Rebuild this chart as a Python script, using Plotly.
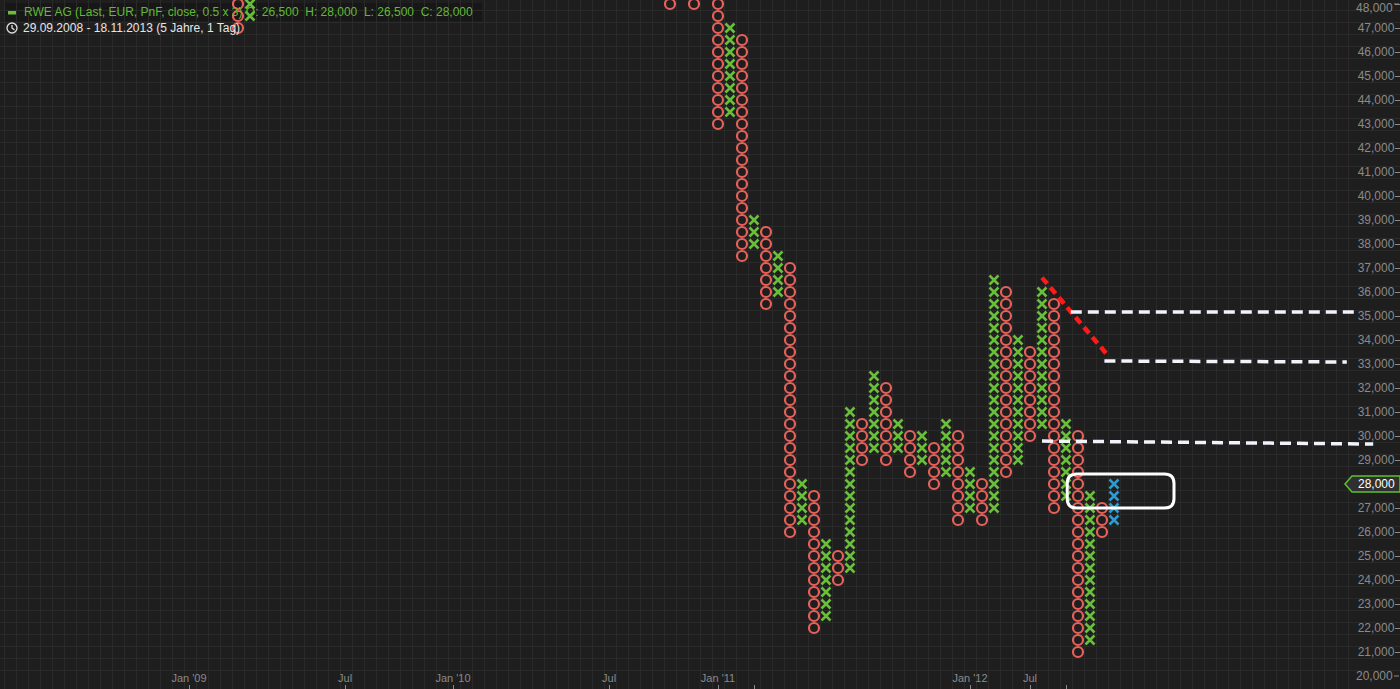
"""Point & figure chart of RWE AG (0.5 x 3), dark terminal style."""
import numpy as np
import plotly.graph_objects as go

# ---- data: one entry per PnF column (index, type, low box, high box) ----
col_idx = [0, 1, 36, 38, 40, 41, 42, 43, 44, 45, 46, 47, 48, 49, 50, 51, 52, 53,
           54, 55, 56, 57, 58, 59, 60, 61, 62, 63, 64, 65, 66, 67, 68, 69, 70,
           71, 72, 73]
col_type = ["O", "X", "O", "O", "O", "X", "O", "X", "O", "X", "O", "X", "O", "X",
            "O", "X", "O", "X", "O", "X", "O", "X", "O", "X", "O", "X", "O", "X",
            "O", "X", "O", "X", "O", "X", "O", "X", "O", "X"]
col_low = [47000, 47500, 48000, 48000, 43000, 43500, 37500, 38000, 35500, 36000,
           26000, 26500, 22000, 22500, 24000, 24500, 29000, 29500, 29000, 29500,
           28500, 29000, 28000, 28500, 26500, 27000, 26500, 27000, 28500, 29000,
           30000, 30500, 27000, 27500, 21000, 21500, 26000, 26500]
col_high = [48000, 48000, 48000, 48000, 48000, 47000, 46500, 39000, 38500, 37500,
            37000, 28000, 27500, 25500, 25000, 31000, 30500, 32500, 32000, 30500,
            30000, 30000, 29500, 30500, 30000, 28500, 28000, 36500, 36000, 34000,
            33500, 36000, 35500, 30500, 30000, 27500, 27000, 28000]
last_col = 73          # current (unfinished) column drawn in blue
box = 500
last_price = 28000

# price scale
price_ticks = list(range(20000, 48001, 1000))

# date ticks on the column axis
date_ticks = [-4.08, 8.92, 17.92, 30.92, 40, 43, 61, 66, 69]
date_labels = ["Jan '09", "Jul", "Jan '10", "Jul", "Jan '11", "", "Jan '12", "Jul", ""]

# hand-drawn trend lines (column, price)
red_line = [(67.0, 36600), (72.5, 33350)]
white_lines = [
    [(69.4, 35170), (93.1, 35170)],
    [(72.2, 33125), (92.4, 33085)],
    [(67.0, 29790), (94.6, 29665)],
]
highlight_box = (69.1, 78.0, 27000, 28420)

BG = "#1e1e1e"
GRID = "#2a2a2a"
RED = "#e8605a"
GREEN = "#69bf3a"
BLUE = "#2c9bd1"
AXIS_TXT = "#8a8a8a"
W, H = 1400, 689


def px(x):
    return x / W


def py(y):
    return 1 - y / H


def main():
    xs_o, ys_o, xs_x, ys_x, xs_b, ys_b = [], [], [], [], [], []
    for c, t, lo, hi in zip(col_idx, col_type, col_low, col_high):
        boxes = np.arange(lo, hi + 1, box)
        if c == last_col:
            xs_b += [c] * len(boxes)
            ys_b += list(boxes)
        elif t == "O":
            xs_o += [c] * len(boxes)
            ys_o += list(boxes)
        else:
            xs_x += [c] * len(boxes)
            ys_x += list(boxes)

    fig = go.Figure()
    fig.add_trace(go.Scatter(
        x=xs_o, y=ys_o, mode="markers",
        marker=dict(symbol="circle-open", size=10, color=RED, line=dict(width=2.2, color=RED)),
        showlegend=False, hoverinfo="y",
    ))
    fig.add_trace(go.Scatter(
        x=xs_x, y=ys_x, mode="markers",
        marker=dict(symbol="x-thin-open", size=9, color=GREEN, line=dict(width=2.6, color=GREEN)),
        showlegend=False, hoverinfo="y",
    ))
    fig.add_trace(go.Scatter(
        x=xs_b, y=ys_b, mode="markers",
        marker=dict(symbol="x-thin-open", size=9, color=BLUE, line=dict(width=2.6, color=BLUE)),
        showlegend=False, hoverinfo="y",
    ))

    # x range so that col 0 sits at 238px, 12px per column
    xmin = -238 / 12
    xmax = xmin + W / 12
    # y range: 20,000 at 676px, 24px per 1,000
    ymin = 20000 - (H - 676) / 0.024
    ymax = 20000 + 676 / 0.024

    shapes = []
    # header band
    shapes.append(dict(type="rect", xref="paper", yref="paper", x0=px(4), x1=px(482),
                       y0=py(21), y1=py(3), fillcolor="#171717", line=dict(width=0), layer="below"))
    # green legend dash
    shapes.append(dict(type="rect", xref="paper", yref="paper", x0=px(8), x1=px(16),
                       y0=py(14.5), y1=py(11), fillcolor=GREEN, line=dict(width=0)))
    # clock icon
    shapes.append(dict(type="circle", xref="paper", yref="paper", x0=px(7), x1=px(17),
                       y0=py(33), y1=py(23), line=dict(color="#e0e0e0", width=1.3)))
    shapes.append(dict(type="path", xref="paper", yref="paper",
                       path=f"M {px(12)} {py(25)} L {px(12)} {py(28)} L {px(14.5)} {py(30)}",
                       line=dict(color="#e0e0e0", width=1.3)))

    # trend lines
    (x0, y0), (x1, y1) = red_line
    shapes.append(dict(type="line", x0=x0, y0=y0, x1=x1, y1=y1,
                       line=dict(color="#ff1a1a", width=4.5, dash="8px,5px")))
    for (a0, b0), (a1, b1) in white_lines:
        shapes.append(dict(type="line", x0=a0, y0=b0, x1=a1, y1=b1,
                           line=dict(color="#f2f2fa", width=3.5, dash="11px,6px")))

    # rounded highlight rectangle
    bx0, bx1, by0, by1 = highlight_box
    rx, ry = 0.8, 400
    path = (f"M {bx0 + rx} {by1} L {bx1 - rx} {by1} Q {bx1} {by1} {bx1} {by1 - ry} "
            f"L {bx1} {by0 + ry} Q {bx1} {by0} {bx1 - rx} {by0} "
            f"L {bx0 + rx} {by0} Q {bx0} {by0} {bx0} {by0 + ry} "
            f"L {bx0} {by1 - ry} Q {bx0} {by1} {bx0 + rx} {by1} Z")
    shapes.append(dict(type="path", path=path, line=dict(color="white", width=3)))

    # last price tag on the right scale
    tag_y = 676 - (last_price - 20000) * 0.024
    tag = (f"M {px(1345)} {py(tag_y)} L {px(1352)} {py(tag_y - 8)} L {px(1400)} {py(tag_y - 8)} "
           f"L {px(1400)} {py(tag_y + 8)} L {px(1352)} {py(tag_y + 8)} Z")
    shapes.append(dict(type="path", xref="paper", yref="paper", path=tag,
                       fillcolor="#303030", line=dict(color="#5fbf2f", width=1.5)))

    annotations = [
        dict(xref="paper", yref="paper", x=px(22), y=py(12), xanchor="left", yanchor="middle",
             text="RWE AG (Last, EUR, PnF, close, 0.5 x 3) O: 26,500\u00a0\u00a0H: 28,000"
                  "\u00a0\u00a0L: 26,500\u00a0\u00a0C: 28,000",
             showarrow=False, font=dict(color="#5fbb2f", size=12, family="Liberation Sans")),
        dict(xref="paper", yref="paper", x=px(21), y=py(28), xanchor="left", yanchor="middle",
             text="29.09.2008 - 18.11.2013 (5 Jahre, 1 Tag)",
             showarrow=False, font=dict(color="#e6e6e6", size=12, family="Liberation Sans")),
        dict(xref="paper", yref="paper", x=px(1376), y=py(tag_y), xanchor="center", yanchor="middle",
             text=f"{last_price:,}", showarrow=False,
             font=dict(color="white", size=12, family="Liberation Sans")),
    ]
    # edge labels of the price scale (plotly drops inside labels that touch the border)
    for p, anchor in ((price_ticks[0], "middle"), (price_ticks[-1], "top")):
        ypos = p if anchor == "middle" else ymax
        annotations.append(dict(
            xref="paper", yref="y", x=px(1394), y=ypos, xanchor="right", yanchor=anchor,
            text=f"{p:,}", showarrow=False, borderpad=0,
            font=dict(color=AXIS_TXT, size=12, family="Liberation Sans"),
        ))
        shapes.append(dict(type="line", xref="paper", yref="y", x0=px(1394), x1=px(1399),
                           y0=p, y1=p, line=dict(color=AXIS_TXT, width=1)))

    fig.update_layout(
        width=W,
        height=H,
        margin=dict(l=0, r=0, t=0, b=0),
        paper_bgcolor=BG,
        plot_bgcolor=BG,
        shapes=shapes,
        annotations=annotations,
        font=dict(family="Liberation Sans", color=AXIS_TXT),
        xaxis=dict(
            range=[xmin, xmax], showgrid=False, zeroline=False, showline=False,
            tickvals=date_ticks, ticktext=date_labels, ticks="inside", ticklen=4,
            tickcolor=AXIS_TXT, ticklabelposition="inside", tickfont=dict(size=11, color=AXIS_TXT),
            minor=dict(tick0=0.5, dtick=1, showgrid=True, gridcolor=GRID, gridwidth=1),
        ),
        yaxis=dict(
            range=[ymin, ymax], side="right", showgrid=False, zeroline=False, showline=False,
            tickvals=price_ticks, tickformat=",d",
            ticks="inside", ticklen=5, tickcolor=AXIS_TXT, ticklabelposition="inside",
            tickfont=dict(size=12, color=AXIS_TXT),
            minor=dict(tick0=20250, dtick=500, showgrid=True, gridcolor=GRID, gridwidth=1),
        ),
    )
    fig.write_html("out.html", config={"displayModeBar": False},
                   post_script="document.body.style.margin='0';")


if __name__ == "__main__":
    main()
